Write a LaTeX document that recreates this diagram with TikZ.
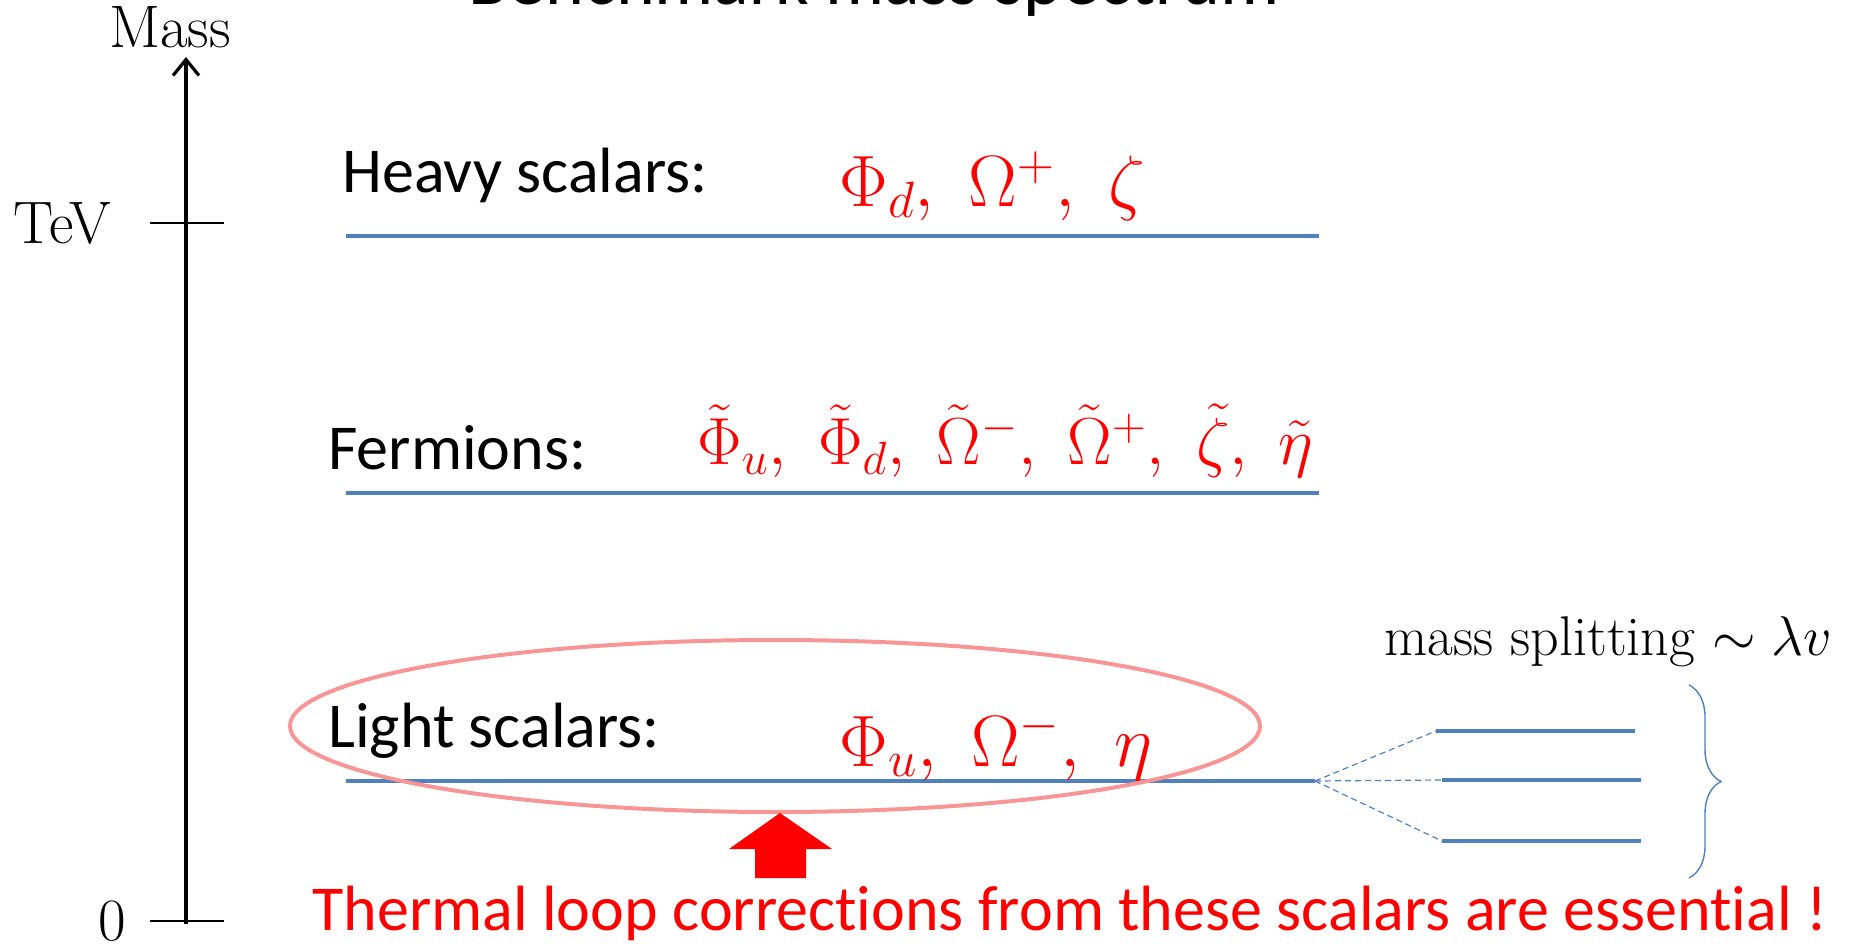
\documentclass[tikz,border=0pt]{standalone}
\usepackage{fix-cm}
\usepackage{fontspec}
\newfontfamily\calib{Carlito}[Ligatures=NoCommon]
\usetikzlibrary{arrows.meta,decorations.pathreplacing}
\definecolor{lvlblue}{RGB}{79,129,189}
\definecolor{ovalred}{RGB}{248,150,150}

\begin{document}
\begin{tikzpicture}[x=0.5pt,y=-0.5pt,
  level/.style={lvlblue,line width=2pt},
  split/.style={lvlblue,line width=0.6pt,dash pattern=on 3pt off 2pt},
  tick/.style={line width=0.8pt},
  glabel/.style={font=\calib\fontsize{32}{38}\selectfont,inner sep=0,anchor=base west},
  plabel/.style={text=red,font=\fontsize{36.4}{42}\selectfont,inner sep=0,anchor=base west},
  axlabel/.style={font=\fontsize{30}{36}\selectfont,inner sep=0}]
  \useasboundingbox (0,0) rectangle (1858,946);
  \clip (0,0) rectangle (1858,946);
  % Title, cut off at the top
  \node[font=\calib\fontsize{37}{44}\selectfont,inner sep=0,anchor=base] (title) at (874,5) {Benchmark mass spectrum};
  % Mass axis
  \coordinate (axbot) at (186,924);
  \coordinate (axtop) at (186,57);
  \draw[line width=1.6pt,-{Straight Barb[length=8pt,width=13pt]}] (axbot) -- (axtop);
  \draw[tick] (150,223) -- (224,223);
  \draw[tick] (150,921) -- (224,921);
  \node[axlabel,anchor=base] (mass) at (170,48) {Mass};
  \node[axlabel,anchor=base east] (tev) at (111,244) {TeV};
  \node[axlabel,anchor=base] (zero) at (112,940) {0};
  % Levels
  \draw[level] (346,236) -- (1319,236);
  \draw[level] (346,493) -- (1319,493);
  \coordinate (lightL) at (346,781);
  \coordinate (lightR) at (1315,781);
  \draw[level] (lightL) -- (lightR);
  % Level labels
  \node[glabel] (heavy) at (342,193) {Heavy scalars:};
  \node[plabel] (heavyp) at (839,207) {$\Phi_d,\ \Omega^+,\ \zeta$};
  \node[glabel] (ferm) at (328,470) {Fermions:};
  \node[plabel,font=\fontsize{33.3}{40}\selectfont] (fermp) at (697,465) {$\tilde\Phi_u,\ \tilde\Phi_d,\ \tilde\Omega^-,\ \tilde\Omega^+,\ \tilde\zeta,\ \tilde\eta$};
  \node[glabel] (light) at (328,747) {Light scalars:};
  \node[plabel] (lightp) at (839,766) {$\Phi_u,\ \Omega^-,\ \eta$};
  % Oval round the light scalars
  \draw[ovalred,line width=2pt] (775,726) ellipse [x radius=485,y radius=86];
  % Splitting of the light level
  \coordinate (s1L) at (1436,731);
  \coordinate (s1R) at (1635,731);
  \coordinate (s2L) at (1442,780);
  \coordinate (s2R) at (1641,780);
  \coordinate (s3L) at (1442,841);
  \coordinate (s3R) at (1641,841);
  \draw[level] (s1L) -- (s1R);
  \draw[level] (s2L) -- (s2R);
  \draw[level] (s3L) -- (s3R);
  \draw[split] (lightR) -- (s1L);
  \draw[split] (lightR) -- (s2L);
  \draw[split] (lightR) -- (s3L);
  \draw[lvlblue,line width=0.7pt,decorate,decoration={brace,amplitude=16pt}] (1689,685) -- (1689,878);
  \node[font=\fontsize{28}{34}\selectfont,inner sep=0,anchor=base west] (splitlbl) at (1384,655) {mass splitting $\sim\lambda v$};
  % Red arrow and remark
  \fill[red] (780,813) -- (832,849) -- (806,849) -- (806,878) -- (755,878) -- (755,849) -- (729,849) -- cycle;
  \node[glabel,text=red] (thermal) at (312,930) {Thermal loop corrections from these scalars are essential !};
\end{tikzpicture}
\end{document}
